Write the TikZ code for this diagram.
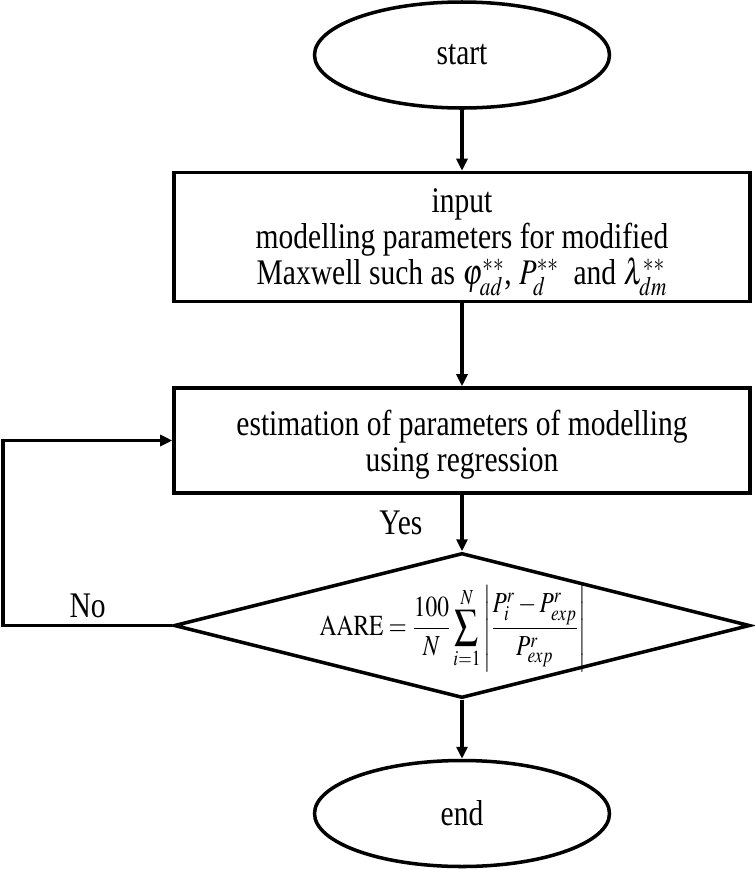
\documentclass[tikz,border=0pt]{standalone}
\usepackage[no-math]{fontspec}
\usepackage{mathptmx}
\usepackage{graphicx}
\setmainfont[FakeStretch=0.82]{Liberation Serif}
\usetikzlibrary{shapes.geometric,arrows.meta}
\newcommand{\squeeze}[1]{\scalebox{0.8}[1]{#1}}
\newcommand{\topstrut}{\rule{0pt}{0.69cm}}

\tikzset{
  flowline/.style={draw, line width=2pt},
  terminal/.style={flowline, ellipse, minimum width=5.9cm, minimum height=2.12cm},
  process/.style={flowline, rectangle, minimum width=11.52cm, align=center, inner sep=0pt},
  decision/.style={flowline, diamond, minimum width=11.52cm, minimum height=2.9cm, inner sep=0pt},
  arrow/.style={line width=2pt, -{Triangle[length=0.24cm,width=0.22cm]}},
}

\begin{document}
\begin{tikzpicture}[every node/.style={font=\fontsize{20.5pt}{20.5pt}\selectfont}]%
\useasboundingbox (0,0) rectangle (15.1,-17.4);%
\node[terminal] (start) at (9.24,-1.1) {start};%
\node[process, minimum height=2.58cm] (input) at (9.24,-4.74) {\topstrut input\\modelling parameters for modified\\Maxwell such as \squeeze{$\varphi^{**}_{ad}$}, \squeeze{$P^{**}_{d}$} \ and \squeeze{$\lambda^{**}_{dm}$}};%
\node[process, minimum height=2.1cm] (estim) at (9.24,-8.81) {\topstrut estimation of parameters of modelling\\using regression};%
\node[decision] (check) at (9.24,-12.51) {};%
\node[font=\fontsize{16.5pt}{18pt}\selectfont, xshift=-0.18cm, yshift=-0.06cm] (aare) at (check.center) {\scalebox{0.81}[1]{$\displaystyle \mathrm{AARE}=\frac{100}{N}\sum_{i=1}^{N}\left|\frac{P^{r}_{i}-P^{r}_{exp}}{P^{r}_{exp}}\right|$}};%
\node[terminal] (stop) at (9.24,-16.27) {end};%
\coordinate (back) at (0.06,-12.51);%
\draw[arrow] (start) -- (input);%
\draw[arrow] (input) -- (estim);%
\draw[arrow] (estim) -- node[left, xshift=-0.64cm] {Yes} (check);%
\draw[arrow] (check) -- (stop);%
\draw[arrow] (check.west) -- node[above] {No} (back) |- (estim.west);%
\end{tikzpicture}
\end{document}
